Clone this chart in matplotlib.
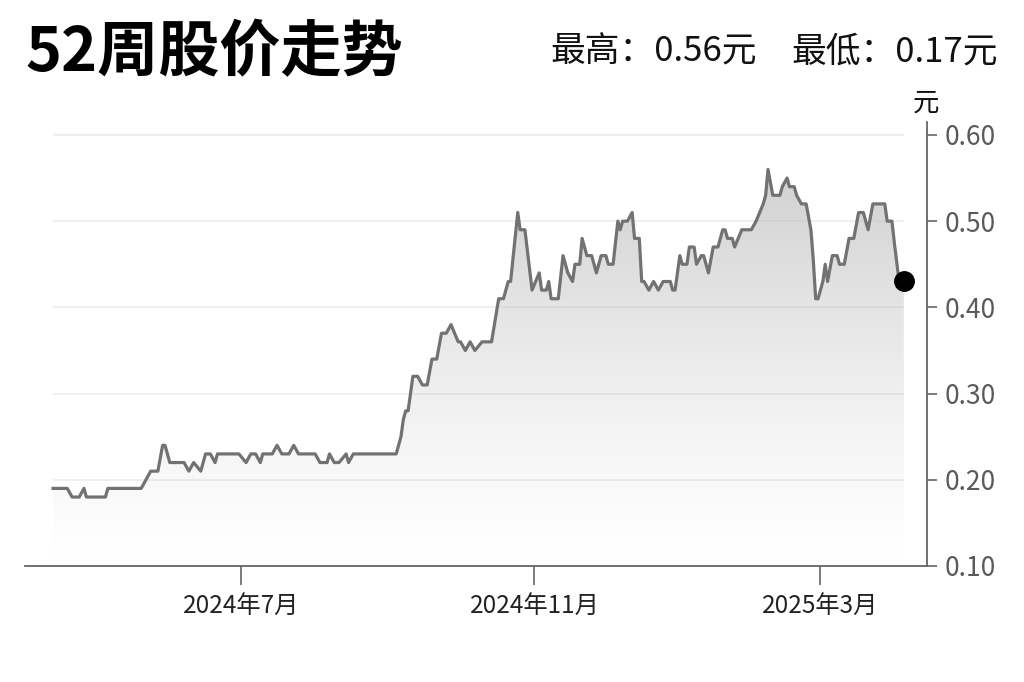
import matplotlib
matplotlib.use("Agg")
import matplotlib.pyplot as plt
import matplotlib.dates as mdates
import numpy as np
import pandas as pd

plt.rcParams['font.family'] = ['Noto Sans CJK SC', 'DejaVu Sans']

# price points (date, price in 元)
dates = ["2024-04-13", "2024-04-19", "2024-04-21", "2024-04-24", "2024-04-26", "2024-04-27",
         "2024-05-05", "2024-05-06", "2024-05-20", "2024-05-24", "2024-05-27", "2024-05-29",
         "2024-05-30", "2024-06-01", "2024-06-07", "2024-06-09", "2024-06-11", "2024-06-14",
         "2024-06-16", "2024-06-18", "2024-06-20", "2024-06-21", "2024-06-30", "2024-07-03",
         "2024-07-05", "2024-07-07", "2024-07-09", "2024-07-10", "2024-07-14", "2024-07-16",
         "2024-07-18", "2024-07-21", "2024-07-23", "2024-07-25", "2024-08-01", "2024-08-03",
         "2024-08-06", "2024-08-07", "2024-08-09", "2024-08-11", "2024-08-14", "2024-08-15",
         "2024-08-17", "2024-09-04", "2024-09-06", "2024-09-07", "2024-09-08", "2024-09-09",
         "2024-09-11", "2024-09-13", "2024-09-15", "2024-09-17", "2024-09-19", "2024-09-21",
         "2024-09-23", "2024-09-25", "2024-09-27", "2024-09-30", "2024-10-01", "2024-10-03",
         "2024-10-05", "2024-10-07", "2024-10-10", "2024-10-14", "2024-10-17", "2024-10-19",
         "2024-10-21", "2024-10-22", "2024-10-25", "2024-10-26", "2024-10-28", "2024-10-31",
         "2024-11-03", "2024-11-04", "2024-11-06", "2024-11-07", "2024-11-08", "2024-11-11",
         "2024-11-13", "2024-11-15", "2024-11-17", "2024-11-18", "2024-11-20", "2024-11-21",
         "2024-11-23", "2024-11-25", "2024-11-27", "2024-11-29", "2024-12-01", "2024-12-02",
         "2024-12-04", "2024-12-06", "2024-12-07", "2024-12-08", "2024-12-10", "2024-12-12",
         "2024-12-13", "2024-12-15", "2024-12-16", "2024-12-17", "2024-12-19", "2024-12-21",
         "2024-12-23", "2024-12-25", "2024-12-28", "2024-12-29", "2024-12-30", "2025-01-01",
         "2025-01-02", "2025-01-04", "2025-01-05", "2025-01-07", "2025-01-08", "2025-01-10",
         "2025-01-11", "2025-01-13", "2025-01-15", "2025-01-17", "2025-01-19", "2025-01-20",
         "2025-01-21", "2025-01-23", "2025-01-24", "2025-01-27", "2025-01-31", "2025-02-02",
         "2025-02-05", "2025-02-06", "2025-02-07", "2025-02-09", "2025-02-12", "2025-02-13",
         "2025-02-15", "2025-02-16", "2025-02-18", "2025-02-19", "2025-02-21", "2025-02-23",
         "2025-02-25", "2025-02-26", "2025-02-27", "2025-02-28", "2025-03-02", "2025-03-03",
         "2025-03-04", "2025-03-06", "2025-03-08", "2025-03-09", "2025-03-11", "2025-03-13",
         "2025-03-15", "2025-03-17", "2025-03-19", "2025-03-21", "2025-03-23", "2025-03-28",
         "2025-03-29", "2025-03-31", "2025-04-01", "2025-04-03", "2025-04-05"]
prices = [0.19, 0.19, 0.18, 0.18, 0.19, 0.18,
          0.18, 0.19, 0.19, 0.21, 0.21, 0.24,
          0.24, 0.22, 0.22, 0.21, 0.22, 0.21,
          0.23, 0.23, 0.22, 0.23, 0.23, 0.22,
          0.23, 0.23, 0.22, 0.23, 0.23, 0.24,
          0.23, 0.23, 0.24, 0.23, 0.23, 0.22,
          0.22, 0.23, 0.22, 0.22, 0.23, 0.22,
          0.23, 0.23, 0.25, 0.27, 0.28, 0.28,
          0.32, 0.32, 0.31, 0.31, 0.34, 0.34,
          0.37, 0.37, 0.38, 0.36, 0.36, 0.35,
          0.36, 0.35, 0.36, 0.36, 0.41, 0.41,
          0.43, 0.43, 0.51, 0.49, 0.49, 0.42,
          0.44, 0.42, 0.42, 0.43, 0.41, 0.41,
          0.46, 0.44, 0.43, 0.45, 0.45, 0.48,
          0.46, 0.46, 0.44, 0.46, 0.46, 0.45,
          0.45, 0.50, 0.49, 0.50, 0.50, 0.51,
          0.48, 0.48, 0.43, 0.43, 0.42, 0.43,
          0.42, 0.43, 0.43, 0.42, 0.42, 0.46,
          0.45, 0.45, 0.47, 0.47, 0.45, 0.46,
          0.46, 0.44, 0.47, 0.47, 0.49, 0.49,
          0.48, 0.48, 0.47, 0.49, 0.49, 0.50,
          0.52, 0.53, 0.56, 0.53, 0.53, 0.54,
          0.55, 0.54, 0.54, 0.53, 0.52, 0.52,
          0.49, 0.455, 0.41, 0.41, 0.43, 0.45,
          0.43, 0.46, 0.46, 0.45, 0.45, 0.48,
          0.48, 0.51, 0.51, 0.49, 0.52, 0.52,
          0.50, 0.50, 0.475, 0.43, 0.43]

title = "52周股价走势"
high_text = "最高：0.56元"
low_text = "最低：0.17元"
unit = "元"
y_ticks = [0.10, 0.20, 0.30, 0.40, 0.50, 0.60]
x_ticks = ["2024-07-01", "2024-11-01", "2025-03-01"]
x_tick_labels = ["2024年7月", "2024年11月", "2025年3月"]

x = pd.to_datetime(dates)
y = np.array(prices)

fig = plt.figure(figsize=(10.24, 6.82), dpi=100)
ax = fig.add_axes([25 / 1024, 116 / 682, 902 / 1024, 444 / 682])

ax.set_ylim(0.10, 0.615)
ax.set_xlim(pd.Timestamp("2024-04-01 06:00"), pd.Timestamp("2025-04-14 17:00"))

# light grid only over the data span
ax.hlines(y_ticks[1:], x[0], x[-1], color="#ececec", linewidth=1.2, zorder=1)

# gradient fill under the line
x0, x1 = mdates.date2num(x[0]), mdates.date2num(x[-1])
grad = np.linspace(0, 1, 256).reshape(-1, 1)
rgba = np.zeros((256, 1, 4))
rgba[..., :3] = 0.76
rgba[..., 3] = grad[:, :] ** 1.3 * 0.75
img = ax.imshow(rgba, extent=[x0, x1, 0.10, 0.56], origin="lower", aspect="auto", zorder=2)
poly = ax.fill_between(x, y, 0.10, color="none", linewidth=0)
img.set_clip_path(poly.get_paths()[0], transform=ax.transData)

ax.plot(x, y, color="#727272", linewidth=2.3, zorder=3, solid_joinstyle="round")
ax.plot(x[-1:], y[-1:], "o", color="black", markersize=14, zorder=4, clip_on=False)

# axes styling
for side in ["left", "top"]:
    ax.spines[side].set_visible(False)
ax.spines["bottom"].set_color("#666666")
ax.spines["bottom"].set_linewidth(1.3)
ax.spines["right"].set_color("#666666")
ax.spines["right"].set_linewidth(1.3)

ax.yaxis.tick_right()
ax.set_yticks(y_ticks)
ax.set_yticklabels([f"{v:.2f}" for v in y_ticks])
ax.tick_params(axis="y", direction="out", length=7, width=1.2, color="#666666",
               labelsize=19, labelcolor="#5a5a5a", pad=6)
ax.set_xticks(pd.to_datetime(x_ticks))
ax.set_xticklabels(x_tick_labels)
ax.tick_params(axis="x", direction="out", length=14, width=1.2, color="#666666",
               labelsize=17.5, labelcolor="#222222", pad=6)

fig.text(25 / 1024, 1 - 53 / 682, title, fontsize=44, fontweight="bold", va="center", ha="left")
fig.text(998 / 1024, 1 - 52 / 682, low_text, fontsize=25, va="center", ha="right", color="#111111")
fig.text(757 / 1024, 1 - 52 / 682, high_text, fontsize=25, va="center", ha="right", color="#111111")
fig.text(926 / 1024, 1 - 103 / 682, unit, fontsize=19, va="center", ha="center", color="#111111")

fig.savefig("out.png", dpi=100, facecolor="white")
